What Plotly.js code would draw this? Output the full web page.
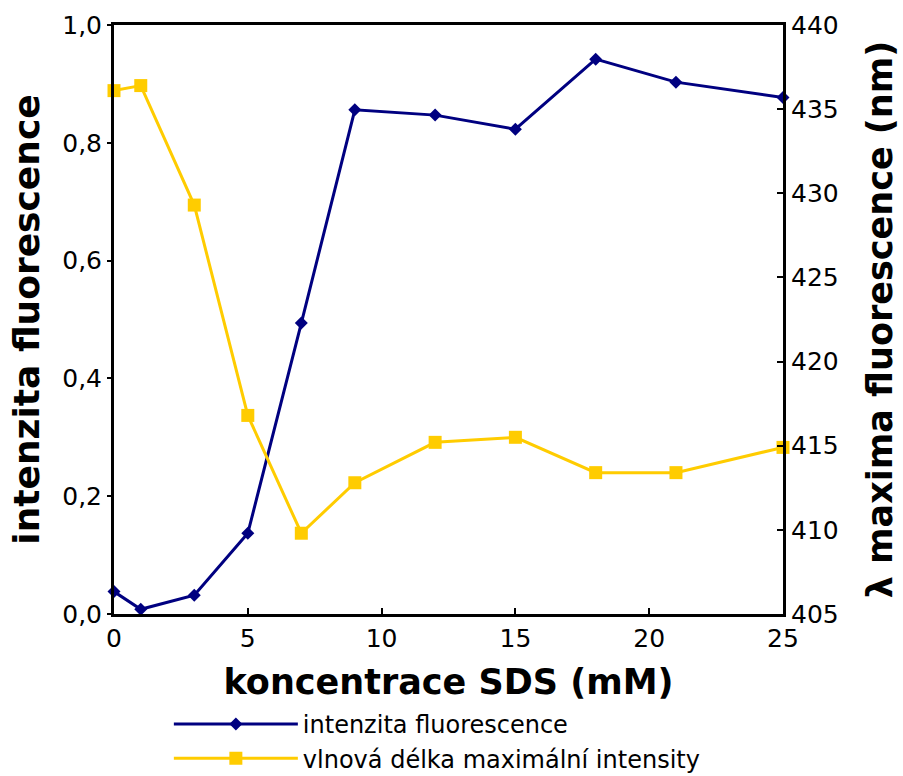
<!DOCTYPE html>
<html>
<head>
<meta charset="utf-8">
<script src="https://cdn.plot.ly/plotly-3.0.1.min.js"></script>
<style>
  html, body { margin: 0; padding: 0; background: #fff; }
  #chart { width: 903px; height: 776px; }
</style>
</head>
<body>
<div id="chart"></div>
<script>
// SDS concentration (mM)
const concentration = [0, 1, 3, 5, 7, 9, 12, 15, 18, 21, 25];
// relative fluorescence intensity (left axis)
const intensity = [0.038, 0.008, 0.032, 0.137, 0.494, 0.856, 0.847, 0.823, 0.942, 0.903, 0.877];
// wavelength of the emission maximum, nm (right axis)
const lambdaMax = [436.1, 436.4, 429.3, 416.8, 409.8, 412.8, 415.2, 415.5, 413.4, 413.4, 414.9];

const seriesNames = ['intenzita fluorescence', 'vlnová délka maximální intensity'];
const xTitle = 'koncentrace SDS (mM)';
const yTitle = 'intenzita fluorescence';
const y2Title = 'λ maxima fluorescence (nm)';

const FONT = 'DejaVu Sans, Verdana, sans-serif';
const BLUE = '#000080';
const YELLOW = '#FFCC00';

const traces = [
  {
    x: concentration, y: intensity, name: seriesNames[0],
    type: 'scatter', mode: 'lines+markers', yaxis: 'y',
    line: { color: BLUE, width: 3 },
    marker: { symbol: 'diamond', size: 10, color: BLUE },
    cliponaxis: false
  },
  {
    x: concentration, y: lambdaMax, name: seriesNames[1],
    type: 'scatter', mode: 'lines+markers', yaxis: 'y2',
    line: { color: YELLOW, width: 3 },
    marker: { symbol: 'square', size: 13, color: YELLOW },
    cliponaxis: false
  }
];

const layout = {
  width: 903, height: 776,
  margin: { l: 114, r: 120, t: 25, b: 162 },
  paper_bgcolor: '#fff', plot_bgcolor: '#fff',
  separators: ', ',
  font: { family: FONT, color: '#000', size: 24 },
  showlegend: true,
  legend: {
    xref: 'paper', yref: 'container',
    x: 0.082, y: 0.0955, xanchor: 'left', yanchor: 'top',
    orientation: 'v', itemwidth: 124,
    font: { family: FONT, size: 24, color: '#000' },
    bgcolor: 'rgba(0,0,0,0)', tracegroupgap: 0
  },
  xaxis: {
    range: [0, 25], dtick: 5, tick0: 0,
    showgrid: false, zeroline: false,
    showline: true, linecolor: '#000', linewidth: 3, mirror: true,
    ticks: 'inside', ticklen: 6, tickwidth: 2, tickcolor: '#000',
    tickfont: { family: FONT, size: 25 },
    title: { text: xTitle, font: { family: FONT, size: 35, weight: 'bold' }, standoff: 20 }
  },
  yaxis: {
    range: [0, 1], dtick: 0.2, tick0: 0, tickformat: '.1f',
    showgrid: false, zeroline: false,
    showline: true, linecolor: '#000', linewidth: 3,
    ticks: 'outside', ticklen: 4, tickwidth: 2, tickcolor: '#000',
    tickfont: { family: FONT, size: 25 },
    title: { text: yTitle, font: { family: FONT, size: 36, weight: 'bold' }, standoff: 12 }
  },
  yaxis2: {
    range: [405, 440], dtick: 5, tick0: 405,
    overlaying: 'y', side: 'right',
    showgrid: false, zeroline: false,
    showline: true, linecolor: '#000', linewidth: 3,
    ticks: 'inside', ticklen: 6, tickwidth: 2, tickcolor: '#000',
    tickfont: { family: FONT, size: 25 },
    title: { text: y2Title, font: { family: FONT, size: 35, weight: 'bold' }, standoff: 30 }
  }
};

Plotly.newPlot('chart', traces, layout, { displayModeBar: false, staticPlot: true });
</script>
</body>
</html>
